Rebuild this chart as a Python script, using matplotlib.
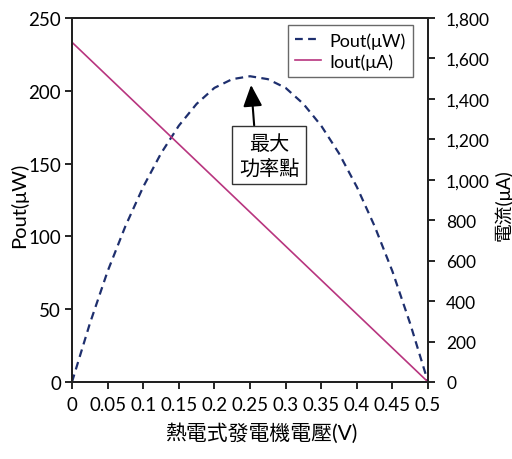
import matplotlib
matplotlib.use("Agg")
import matplotlib.pyplot as plt

plt.rcParams['font.family'] = ['Lato', 'Noto Sans CJK TC', 'DejaVu Sans']

voltage = [0, 0.025, 0.05, 0.075, 0.1, 0.125, 0.15, 0.175, 0.2, 0.225, 0.25,
           0.275, 0.3, 0.325, 0.35, 0.375, 0.4, 0.425, 0.45, 0.475, 0.5]
pout_uw = [0, 40, 76, 107, 134, 157, 176, 191, 202, 208, 210,
           208, 202, 191, 176, 157, 134, 107, 76, 40, 0]
iout_v = [0, 0.5]
iout_ua = [1680, 0]

xticks = [0, 0.05, 0.1, 0.15, 0.2, 0.25, 0.3, 0.35, 0.4, 0.45, 0.5]
xticklabels = ['0', '0.05', '0.1', '0.15', '0.2', '0.25', '0.3', '0.35', '0.4', '0.45', '0.5']
yticks_left = [0, 50, 100, 150, 200, 250]
yticks_right = [0, 200, 400, 600, 800, 1000, 1200, 1400, 1600, 1800]

navy = '#1e2f6e'
magenta = '#b8357f'

fig = plt.figure(figsize=(5.12, 4.6), dpi=100)
ax = fig.add_axes([0.1406, 0.1674, 0.6954, 0.7913])
ax2 = ax.twinx()

lp, = ax.plot(voltage, pout_uw, color=navy, lw=1.6, ls=(0, (3.5, 2.4)))
li, = ax2.plot(iout_v, iout_ua, color=magenta, lw=1.2)

ax.set_xlim(0, 0.5)
ax.set_ylim(0, 250)
ax2.set_ylim(0, 1800)
ax.set_xticks(xticks)
ax.set_xticklabels(xticklabels)
ax.set_yticks(yticks_left)
ax2.set_yticks(yticks_right)
ax2.set_yticklabels([f'{v:,}' for v in yticks_right])

for a in (ax, ax2):
    a.tick_params(direction='out', length=5, width=1.2, labelsize=13.5, colors='black')
    for s in a.spines.values():
        s.set_linewidth(1.4)
        s.set_color('#222222')
ax.tick_params(axis='x', pad=5)
ax.tick_params(axis='y', pad=3)
ax2.tick_params(axis='y', pad=8, labelsize=12.5)

# axis titles placed where the reference shows them
fig.text(19 / 512, 1 - 205 / 460, 'Pout(μW)', rotation=90, ha='center', va='center',
         fontsize=14.5)
fig.text(503 / 512, 1 - 205 / 460, '電流(μA)', rotation=90, ha='center', va='center',
         fontsize=13.5)
fig.text(261 / 512, 1 - 434 / 460, '熱電式發電機電壓(V)', ha='center', va='center',
         fontsize=15)

leg = ax.legend([lp, li], ['Pout(μW)', 'Iout(μA)'], loc='upper right',
                bbox_to_anchor=(0.958, 0.981), borderaxespad=0, fontsize=13,
                frameon=True, fancybox=False, edgecolor='#444444',
                handlelength=1.4, borderpad=0.4, labelspacing=0.25,
                handletextpad=0.5)
leg.get_frame().set_linewidth(1.0)

ax.annotate('最大\n功率點', xy=(0.2515, 204), xytext=(0.277, 156),
            ha='center', va='center', fontsize=14.5, linespacing=1.35,
            bbox=dict(boxstyle='square,pad=0.35', fc='white', ec='#333333', lw=1.0),
            arrowprops=dict(arrowstyle='-|>,head_length=0.9,head_width=0.4',
                            color='black', lw=1.5, shrinkA=0, shrinkB=0,
                            relpos=(0.26, 1.0)),
            zorder=5)

fig.savefig('out.png', dpi=100)
